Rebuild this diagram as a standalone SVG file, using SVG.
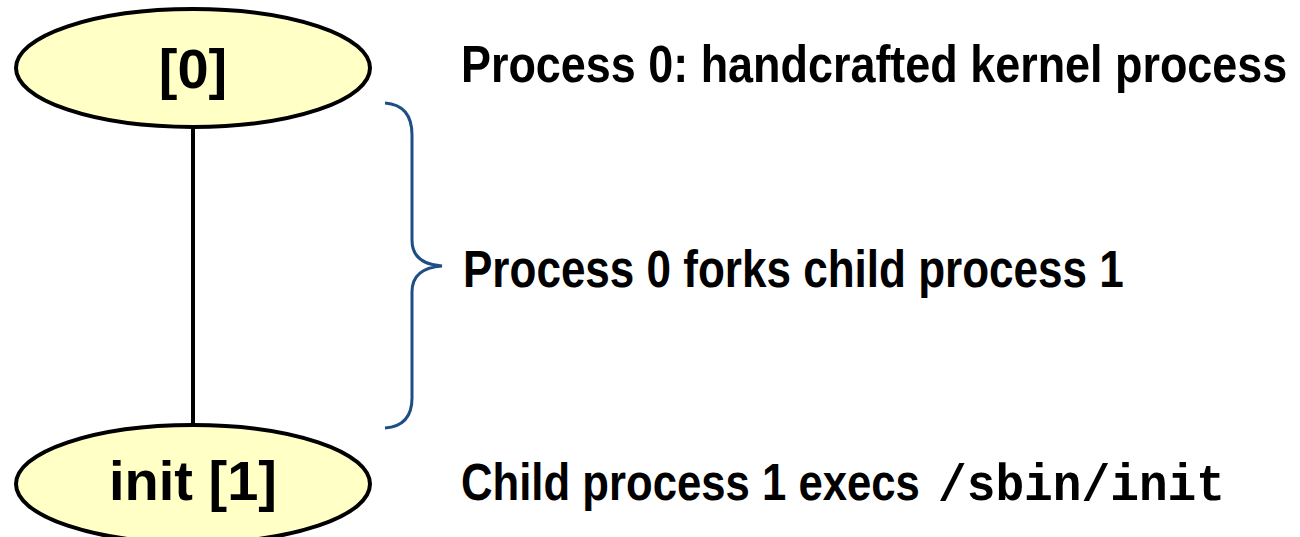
<svg xmlns="http://www.w3.org/2000/svg" width="1300" height="537" viewBox="0 0 1300 537">
<style>
.node{fill:#FFFFC6;stroke:#000;stroke-width:4}
.nl{font-family:"Liberation Sans",Arial,sans-serif;font-weight:bold;font-size:56px;fill:#000;text-anchor:middle}
.t{font-family:"Liberation Sans",Arial,sans-serif;font-weight:bold;font-size:52px;fill:#000}
.m{font-family:"Liberation Mono","Courier New",monospace;font-weight:bold;font-size:52px;fill:#000}
</style>
<rect width="1300" height="537" fill="#fff"/>
<g id="connectors">
<line x1="193" y1="127" x2="193" y2="426" stroke="#000" stroke-width="4"/>
</g>
<g id="node0">
<ellipse class="node" cx="193" cy="68" rx="177" ry="59"/>
<text class="nl" x="193" y="88">[0]</text>
</g>
<g id="node1">
<ellipse class="node" cx="193" cy="484" rx="177" ry="59"/>
<text class="nl" x="193" y="500">init [1]</text>
</g>
<g id="brace">
<path d="M385,103 Q412,105 412,135 L412,240 Q412,264 442,266 Q412,268 412,292 L412,398 Q412,426 385,428" fill="none" stroke="#1F4E86" stroke-width="3"/>
</g>
<g id="labels">
<text class="t" transform="translate(461,82) scale(0.864,1)">Process 0: handcrafted kernel process</text>
<text class="t" transform="translate(463,287) scale(0.847,1)">Process 0 forks child process 1</text>
<text class="t" transform="translate(461,500) scale(0.84,1)">Child process 1 execs</text>
<text class="m" transform="translate(938,500) scale(0.92,1)">/sbin/init</text>
</g>
</svg>
